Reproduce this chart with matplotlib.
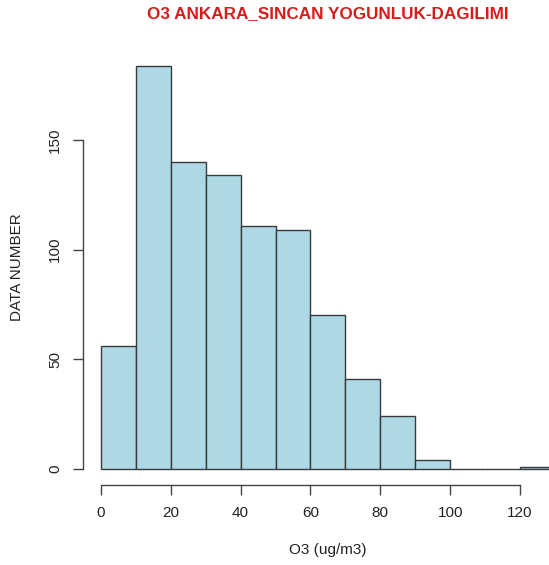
import matplotlib
matplotlib.use("Agg")
import matplotlib.pyplot as plt

# histogram of O3 concentrations, 10 ug/m3 bins
bin_edges = [0, 10, 20, 30, 40, 50, 60, 70, 80, 90, 100, 110, 120, 130]
counts = [56, 184, 140, 134, 111, 109, 70, 41, 24, 4, 0, 0, 1]
x_ticks = [0, 20, 40, 60, 80, 100, 120]
y_ticks = [0, 50, 100, 150]

plt.rcParams['font.family'] = ['Liberation Sans', 'DejaVu Sans']

fig = plt.figure(figsize=(5.49, 5.65), dpi=100)
# R-style plot region, deliberately running past the right edge
ax = fig.add_axes([0.1508, 0.1416, 0.893, 0.771])

ax.bar(bin_edges[:-1], counts, width=10, align='edge',
       color='#add8e6', edgecolor='#3a3a3a', linewidth=1.0)

ax.set_xlim(-5.2, 135.2)
ax.set_ylim(-7.36, 191.36)

for s in ['top', 'right']:
    ax.spines[s].set_visible(False)
ax.spines['left'].set_bounds(0, 150)
ax.spines['bottom'].set_bounds(0, 120)
for s in ['left', 'bottom']:
    ax.spines[s].set_color('#444444')
    ax.spines[s].set_linewidth(1.0)

ax.set_xticks(x_ticks)
ax.set_yticks(y_ticks)
ax.tick_params(axis='both', direction='out', length=7, width=1.0,
               color='#444444', labelsize=11, labelcolor='#222222', pad=8)
plt.setp(ax.get_yticklabels(), rotation=90, va='center')

ax.set_xlabel('O3 (ug/m3)', fontsize=11, color='#222222', labelpad=17)
ax.set_ylabel('DATA NUMBER', fontsize=11, color='#222222', labelpad=17)
ax.set_title('O3 ANKARA_SINCAN YOGUNLUK-DAGILIMI', fontsize=12.3,
             fontweight='bold', color='#d81b1b', pad=22.5)

fig.savefig('out.png', dpi=100)
